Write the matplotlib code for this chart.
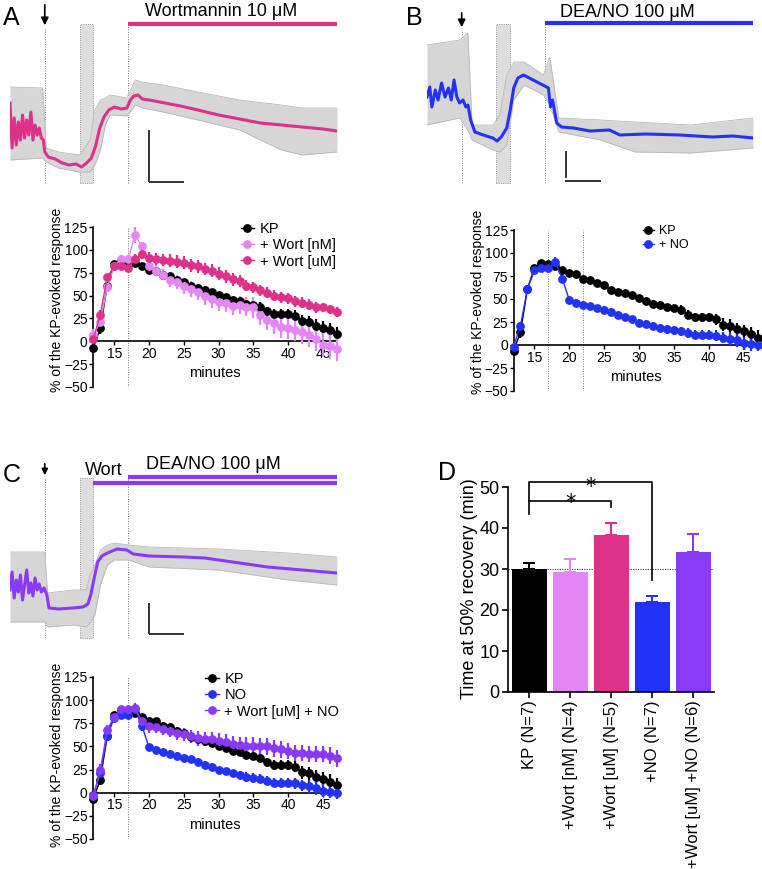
import numpy as np
import matplotlib
matplotlib.use("Agg")
import matplotlib.pyplot as plt
from matplotlib.patches import Rectangle
from matplotlib.lines import Line2D

plt.rcParams['font.family'] = ['Liberation Sans', 'DejaVu Sans']

W, H = 762, 869

# ---- traces (arbitrary units, minutes) ----
a_t = [0, 0.3, 0.6, 0.9, 1.2, 1.5, 1.8, 2.1, 2.4, 2.7, 3.0, 3.3, 3.6, 3.9, 4.2, 4.5, 4.8, 5.0, 5.5, 6.5,
       7.5, 8.5, 9.5, 10.3, 11.0, 11.7, 12.3, 12.9, 13.5, 14.2, 15.0, 16.0, 16.8, 17.3, 17.8, 18.4, 19.0,
       20.0, 21.5, 23.0, 24.5, 27.0, 30.0, 33.0, 36.0, 39.0, 42.0, 45.0, 47.0]
a_y = [87, 42, 72, 45, 68, 50, 75, 52, 70, 55, 78, 50, 65, 55, 62, 52, 50, 38, 33, 31,
       27, 25, 26, 23, 27, 32, 44, 62, 73, 80, 83, 81, 82, 90, 94, 95, 91,
       90, 88, 86, 84, 80, 75, 71, 67, 65, 63, 61, 59]
a_env_t = [0, 4.7, 5.2, 7, 10, 11.5, 12.2, 13, 13.7, 14.4, 16.8, 18, 19, 22, 27, 33, 39, 42, 47]
a_env_up = [103, 102, 42, 38, 35, 50, 80, 90, 92, 95, 92, 110, 108, 105, 98, 90, 85, 82, 82]
a_env_lo = [30, 32, 28, 22, 18, 18, 25, 40, 65, 75, 74, 85, 82, 78, 70, 60, 40, 35, 38]

b_t = [0, 0.4, 0.7, 1.2, 1.6, 2.1, 2.6, 3.1, 3.5, 3.9, 4.3, 4.7, 5.2, 5.6, 5.9, 6.3, 6.9, 8.1, 9.5, 10.1,
       10.7, 11.5, 12.0, 12.5, 13.1, 13.9, 15.3, 16.7, 17.5, 17.8, 18.1, 18.7, 19.4, 21.1, 23.5, 26.3,
       27.8, 31.6, 36.4, 41.2, 44.1, 47]
b_y = [93, 103, 83, 100, 90, 107, 93, 102, 90, 110, 93, 87, 90, 83, 85, 70, 58, 55, 52, 49,
       53, 62, 80, 102, 112, 115, 110, 105, 102, 83, 90, 67, 63, 62, 59, 60,
       55, 56, 55, 53, 54, 52]
b_env_t = [0, 4.7, 5.9, 6.5, 9.5, 10.5, 11.5, 12.5, 14, 16.8, 17.7, 19, 25, 30, 38, 47]
b_env_up = [145, 150, 157, 65, 65, 75, 115, 128, 128, 115, 133, 72, 70, 68, 65, 72]
b_env_lo = [65, 72, 60, 50, 40, 38, 45, 90, 105, 95, 85, 58, 50, 38, 37, 42]

c_t = [0, 0.3, 0.6, 0.9, 1.2, 1.5, 1.8, 2.1, 2.4, 2.7, 3.0, 3.3, 3.6, 3.9, 4.2, 4.5, 4.9, 5.3, 5.6, 7,
       9, 10.5, 11.2, 11.6, 12.1, 12.6, 13.2, 14, 15.4, 16.8, 17.7, 20, 25, 28, 32, 37, 42, 47]
c_y = [55, 73, 47, 65, 53, 70, 45, 60, 75, 52, 62, 49, 67, 55, 61, 53, 57, 50, 37, 36,
       37, 38, 41, 50, 67, 83, 89, 92, 96, 95, 91, 89, 88, 87, 83, 78, 75, 72]
c_env_t = [0, 5.0, 5.4, 9, 11, 11.5, 12.2, 13, 14, 15, 17, 20, 30, 40, 47]
c_env_up = [93, 93, 52, 55, 55, 70, 80, 95, 100, 102, 100, 98, 96, 92, 88]
c_env_lo = [23, 23, 18, 20, 18, 22, 30, 60, 80, 85, 85, 78, 75, 65, 60]

# ---- time courses (% of KP-evoked response) ----
minutes = np.arange(12, 48)
kp = [-7, 14, 61, 84, 89, 88, 86, 82, 78, 77, 72, 71, 67, 65, 60, 58, 56, 54, 51, 48,
      45, 44, 41, 40, 38, 33, 30, 30, 30, 28, 22, 21, 17, 15, 12, 8]
kp_err = [3, 6, 4, 3, 3, 3, 3, 3, 3, 3, 3, 3, 3, 3, 3, 3, 3, 3, 3, 3,
          4, 4, 4, 4, 5, 5, 5, 5, 5, 6, 7, 7, 7, 7, 8, 8]
wort_nm = [7, 21, 59, 82, 90, 90, 116, 104, 82, 77, 73, 67, 65, 60, 57, 54, 50, 46, 43, 42,
           39, 40, 38, 37, 29, 23, 20, 16, 14, 12, 10, 7, 2, -4, -5, -8]
wort_nm_err = [6, 5, 5, 4, 4, 4, 9, 5, 6, 6, 6, 8, 8, 8, 9, 9, 10, 10, 10, 10,
               10, 10, 10, 11, 11, 11, 12, 12, 12, 12, 13, 13, 13, 13, 14, 14]
wort_um = [2, 29, 70, 82, 82, 80, 90, 96, 91, 90, 89, 88, 87, 86, 83, 82, 79, 77, 74, 71,
           68, 66, 61, 59, 56, 53, 50, 48, 47, 44, 42, 40, 37, 37, 35, 32]
wort_um_err = [4, 5, 4, 3, 4, 4, 5, 6, 7, 7, 7, 7, 7, 7, 7, 7, 7, 7, 7, 7,
               7, 7, 6, 6, 6, 6, 6, 6, 6, 6, 6, 6, 6, 5, 5, 5]
no = [-2, 21, 61, 81, 84, 84, 90, 72, 49, 46, 44, 42, 40, 38, 36, 33, 30, 28, 24, 23,
      21, 19, 17, 16, 15, 13, 11, 11, 11, 10, 8, 7, 5, 2, 1, 0]
no_err = [3, 4, 4, 3, 3, 3, 6, 5, 4, 4, 4, 4, 4, 4, 4, 4, 4, 4, 4, 4,
          4, 4, 5, 5, 5, 5, 5, 5, 5, 6, 6, 7, 7, 7, 7, 7]
wort_no = [-4, 24, 68, 82, 90, 90, 91, 77, 72, 71, 69, 67, 64, 63, 61, 59, 58, 58, 56, 55,
           53, 52, 51, 51, 50, 50, 48, 47, 45, 43, 43, 42, 42, 42, 40, 37]
wort_no_err = [4, 7, 5, 4, 4, 4, 6, 6, 7, 7, 7, 7, 7, 7, 7, 8, 8, 8, 8, 8,
               8, 8, 9, 9, 9, 9, 9, 9, 9, 9, 9, 9, 9, 9, 9, 9]

# ---- panel D ----
groups = ['KP (N=7)', '+Wort [nM] (N=4)', '+Wort [uM] (N=5)', '+NO (N=7)', '+Wort [uM] +NO (N=6)']
t50 = [30.0, 29.2, 38.4, 22.0, 34.1]
t50_err = [1.5, 3.2, 2.8, 1.4, 4.5]

BLACK = '#000000'
LILAC = '#e487f6'
PINK = '#de3189'
BLUE = '#2233f7'
PURPLE = '#8a3af7'
GRAY = '#d6d6d6'

fig = plt.figure(figsize=(W / 100, H / 100), dpi=100)


def px_axes(l, t, r, b):
    return fig.add_axes([l / W, 1 - b / H, (r - l) / W, (b - t) / H])


def trace_panel(ax, t, y, et, eu, el, color, band_top, arrow_top, arrow_tip, head=11):
    ax.set_xlim(0, 47)
    ax.set_ylim(0, 190)
    ax.axis('off')
    ax.add_patch(Rectangle((10, 7), 2, band_top - 7, facecolor='#dedede', edgecolor='#777777',
                           lw=0.6, ls=':', zorder=1))
    dot = dict(color='#777777', lw=0.7, ls=(0, (1, 1.5)), zorder=1)
    ax.plot([5, 5], [7, arrow_tip], **dot)
    ax.plot([17, 17], [7, band_top], **dot)
    ax.plot([47, 47], [7, band_top], **dot)
    ax.fill_between(et, el, eu, color=GRAY, lw=0, zorder=2)
    ax.plot(et, eu, color='#b8b8b8', lw=0.6, zorder=2)
    ax.plot(et, el, color='#b8b8b8', lw=0.6, zorder=2)
    ax.plot(t, y, color=color, lw=2.2, zorder=3)
    ax.annotate('', xy=(5, arrow_tip), xytext=(5, arrow_top), annotation_clip=False,
                arrowprops=dict(arrowstyle='-|>', color='k', lw=1.2, mutation_scale=head))


def scale_bar(ax, y0, y1, yh):
    ax.plot([20, 20], [y0, y1], color='#333333', lw=1.4, solid_capstyle='butt')
    ax.plot([20, 25], [yh, yh], color='#333333', lw=1.4, solid_capstyle='butt')


# Panel A trace
axA = px_axes(10, 0, 337, 190)
trace_panel(axA, a_t, a_y, a_env_t, a_env_up, a_env_lo, PINK, 166, 188, 162)
axA.plot([17, 47], [166, 166], color=PINK, lw=3, solid_capstyle='butt')
axA.text(30.3, 174, 'Wortmannin 10 \u03bcM', ha='center', va='baseline', fontsize=13)
scale_bar(axA, 8, 60, 8)

# Panel B trace
axB = px_axes(427, 0, 753, 190)
trace_panel(axB, b_t, b_y, b_env_t, b_env_up, b_env_lo, BLUE, 166, 180, 160)
axB.plot([17, 47], [167, 167], color=BLUE, lw=3, solid_capstyle='butt')
axB.text(28.9, 173, 'DEA/NO 100 \u03bcM', ha='center', va='baseline', fontsize=13)
axB.plot([20, 20], [13, 38], color='#333333', lw=1.4)
axB.plot([20, 25], [9, 9], color='#333333', lw=1.4)

# Panel C trace
axC = px_axes(10, 455, 337, 645)
trace_panel(axC, c_t, c_y, c_env_t, c_env_up, c_env_lo, PURPLE, 167, 184, 167, head=9)
axC.plot([17, 47], [168, 168], color=PURPLE, lw=3, solid_capstyle='butt')
axC.plot([12, 47], [162, 162], color=PURPLE, lw=3, solid_capstyle='butt')
axC.text(29.2, 176, 'DEA/NO 100 \u03bcM', ha='center', va='baseline', fontsize=13)
axC.text(13.5, 170, 'Wort', ha='center', va='baseline', fontsize=13)
scale_bar(axC, 11, 42, 11)


def time_panel(ax, series, vlines, legend_xy, legend_fs, ylab_x, ylab_y):
    ax.set_xlim(12, 47)
    ax.set_ylim(-50, 125)
    for v in vlines:
        ax.axvline(v, color='#777777', lw=0.7, ls=(0, (1, 1.5)), zorder=1)
    handles = []
    for vals, err, color, label in series:
        ax.errorbar(minutes, vals, yerr=err, fmt='-o', color=color, ms=5.3, lw=1,
                    elinewidth=1.6, capsize=0, clip_on=False, zorder=3)
        handles.append(Line2D([], [], color=color, marker='o', ms=5.3, lw=1, label=label))
    for s in ['top', 'right']:
        ax.spines[s].set_visible(False)
    ax.spines['bottom'].set_position(('data', 0))
    ax.spines['left'].set_linewidth(1.2)
    ax.spines['bottom'].set_linewidth(1.2)
    ax.set_yticks([-50, -25, 0, 25, 50, 75, 100, 125])
    ax.set_xticks([15, 20, 25, 30, 35, 40, 45])
    ax.tick_params(axis='both', labelsize=10, length=3, width=1, pad=1)
    ax.text(29.5, -35, 'minutes', ha='center', va='center', fontsize=10.5)
    fig.text(ylab_x / W, 1 - ylab_y / H, '% of the KP-evoked response', rotation=90,
             ha='center', va='center', fontsize=10)
    ax.legend(handles=handles, loc='upper left', bbox_to_anchor=legend_xy, frameon=False,
              fontsize=legend_fs, handlelength=0.9, handletextpad=0.4, labelspacing=0.15,
              borderpad=0, borderaxespad=0)


axA2 = px_axes(93.3, 227, 337, 387)
time_panel(axA2, [(kp, kp_err, BLACK, 'KP'),
                  (wort_nm, wort_nm_err, LILAC, '+ Wort [nM]'),
                  (wort_um, wort_um_err, PINK, '+ Wort [uM]')],
           [17, 47], (0.605, 1.03), 10.5, 57, 300)

axB2 = px_axes(513.5, 230, 757.5, 391)
time_panel(axB2, [(kp, kp_err, BLACK, 'KP'),
                  (no, no_err, BLUE, '+ NO')],
           [17, 22, 47], (0.53, 1.03), 9, 478, 302)

axC2 = px_axes(93.3, 677, 337, 839)
time_panel(axC2, [(kp, kp_err, BLACK, 'KP'),
                  (no, no_err, BLUE, 'NO'),
                  (wort_no, wort_no_err, PURPLE, '+ Wort [uM] + NO')],
           [17, 47], (0.46, 1.03), 10.5, 57, 755)

# Panel D
axD = px_axes(508, 487, 714, 692)
x = np.arange(len(groups))
colors = [BLACK, LILAC, PINK, BLUE, PURPLE]
axD.axhline(30, color='#333333', lw=0.8, ls=(0, (1, 1.2)), zorder=1)
axD.bar(x, t50, width=0.84, color=colors, zorder=2)
for xi, m, e, c in zip(x, t50, t50_err, colors):
    axD.errorbar(xi, m, yerr=[[0], [e]], color=c, elinewidth=1.5, capsize=4, capthick=1.5, zorder=3)
axD.set_xlim(-0.52, 4.5)
axD.set_ylim(0, 50)
for s in ['top', 'right']:
    axD.spines[s].set_visible(False)
axD.spines['left'].set_linewidth(1.2)
axD.spines['bottom'].set_linewidth(1.2)
axD.set_yticks([0, 10, 20, 30, 40, 50])
axD.set_xticks(x)
axD.set_xticklabels(groups, rotation=90, fontsize=12)
axD.tick_params(axis='y', labelsize=13, length=4, width=1.2, pad=2)
axD.tick_params(axis='x', length=4, width=1.2, pad=2)
fig.text(470 / W, 1 - 589 / H, 'Time at 50% recovery (min)', rotation=90,
         ha='center', va='center', fontsize=13)
brk = dict(color='k', lw=1.2, clip_on=False)
axD.plot([0, 0, 3, 3], [43.5, 51.1, 51.1, 27.2], **brk)
axD.plot([0, 2, 2], [46.7, 46.7, 45.1], **brk)
axD.text(1.0, 44.6, '*', ha='center', va='baseline', fontsize=15, family='DejaVu Sans')
axD.text(1.5, 48.6, '*', ha='center', va='baseline', fontsize=15, family='DejaVu Sans')

# Panel letters
for lab, px, py in [('A', 11, 25), ('B', 414, 25), ('C', 12, 482), ('D', 447, 480)]:
    fig.text(px / W, 1 - py / H, lab, ha='center', va='baseline', fontsize=18)

fig.savefig('out.png', dpi=100)
